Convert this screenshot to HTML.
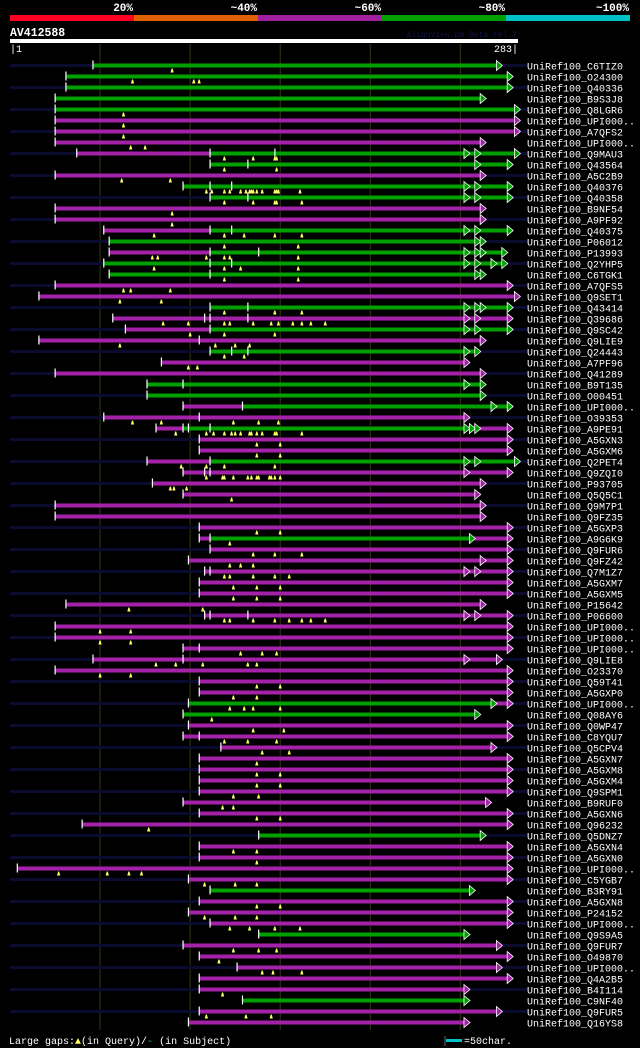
<!DOCTYPE html>
<html><head><meta charset="utf-8"><style>
html,body{margin:0;padding:0;background:#000;}
svg{display:block;font-family:"Liberation Mono",monospace;}
</style></head><body>
<svg id="chart" width="640" height="1048" viewBox="0 0 640 1048">
  <rect x="0" y="0" width="640" height="1048" fill="#000"/>
  <g>
    <rect x="10" y="15" width="124" height="6" fill="#ff0022"/>
    <rect x="134" y="15" width="124" height="6" fill="#e06000"/>
    <rect x="258" y="15" width="124" height="6" fill="#a020a0"/>
    <rect x="382" y="15" width="124" height="6" fill="#00a000"/>
    <rect x="506" y="15" width="124" height="6" fill="#00c0c8"/>
    <g fill="#fff" font-size="11" font-weight="bold" text-anchor="end">
      <text x="133" y="11">20%</text>
      <text x="257" y="11">~40%</text>
      <text x="381" y="11">~60%</text>
      <text x="505" y="11">~80%</text>
      <text x="629" y="11">~100%</text>
    </g>
  </g>
  <text x="10" y="36" fill="#fff" font-size="11.5" font-weight="bold">AV412588</text>
  <text x="517" y="37" fill="#14144a" font-size="8" text-anchor="end">AlignView.pm Beta rel.7</text>
  <rect x="10" y="39" width="508" height="4" fill="#fff"/>
  <text x="10" y="52" fill="#fff" font-size="10">|1</text>
  <text x="518" y="52" fill="#fff" font-size="10" text-anchor="end">283|</text>
  <g id="grid"></g>
  <g id="rows"></g>
  <g font-size="10" fill="#fff">
    <text x="9" y="1044">Large gaps:<tspan fill="#ffff66">▲</tspan>(in Query)/<tspan fill="#00c0c8">-</tspan> (in Subject)</text>
    <line x1="445" y1="1036" x2="445" y2="1046" stroke="#666"/>
    <rect x="446" y="1039" width="16" height="3" fill="#00c0c8"/>
    <text x="464" y="1044">=50char.</text>
  </g>
</svg>
<script>
const queryLength = 283;
const gridTicks = [51, 101, 151, 201, 251];
const names = ["C6TIZ0","O24300","Q40336","B9S3J8","Q8LGR6","UPI000..","A7QFS2","UPI000..","Q9MAU3","Q43564","A5C2B9","Q40376","Q40358","B9NF54","A9PF92","Q40375","P06012","P13993","Q2YHP5","C6TGK1","A7QFS5","Q9SET1","Q43414","Q39686","Q9SC42","Q9LIE9","Q24443","A7PF96","Q41289","B9T135","O00451","UPI000..","O39353","A9PE91","A5GXN3","A5GXM6","Q2PET4","Q9ZQI0","P93705","Q5Q5C1","Q9M7P1","Q9FZ35","A5GXP3","A9G6K9","Q9FUR6","Q9FZ42","Q7M1Z7","A5GXM7","A5GXM5","P15642","P06600","UPI000..","UPI000..","UPI000..","Q9LIE8","O23370","Q59T41","A5GXP0","UPI000..","Q08AY6","Q0WP47","C8YQU7","Q5CPV4","A5GXN7","A5GXM8","A5GXM4","Q9SPM1","B9RUF0","A5GXN6","Q96232","Q5DNZ7","A5GXN4","A5GXN0","UPI000..","C5YGB7","B3RY91","A5GXN8","P24152","UPI000..","Q9S9A5","Q9FUR7","O49870","UPI000..","Q4A2B5","B4I114","C9NF40","Q9FUR5","Q16YS8"];
const segs = [
[[47,271,"g"]],[[32,277,"g"]],[[32,277,"g"]],[[26,262,"g"]],[[26,281,"g"]],[[26,281,"p"]],[[26,281,"p"]],[[26,262,"p"]],
[[38,112,"p"],[112,281,"g"]],[[112,277,"g"]],[[26,262,"p"]],[[97,277,"g"]],[[112,277,"g"]],[[26,262,"p"]],[[26,262,"p"]],
[[53,112,"p"],[112,277,"g"]],[[56,262,"g"]],[[56,112,"p"],[112,274,"g"]],[[53,274,"g"]],[[56,262,"g"]],[[26,277,"p"]],[[17,281,"p"]],
[[112,277,"g"]],[[58,277,"p"]],[[65,112,"p"],[112,277,"g"]],[[17,262,"p"]],[[112,259,"g"]],[[85,253,"p"]],[[26,262,"p"]],
[[77,262,"g"]],[[77,262,"g"]],[[97,130,"p"],[130,277,"g"]],[[53,253,"p"]],[[82,97,"p"],[97,253,"g"],[253,277,"p"]],
[[106,277,"p"]],[[106,277,"p"]],[[77,112,"p"],[112,281,"g"]],[[97,277,"p"]],[[80,262,"p"]],[[97,259,"p"]],[[26,262,"p"]],[[26,262,"p"]],
[[106,277,"p"]],[[106,112,"p"],[112,256,"g"],[256,277,"p"]],[[112,277,"p"]],[[100,277,"p"]],[[109,277,"p"]],[[106,277,"p"]],[[106,277,"p"]],
[[32,262,"p"]],[[109,277,"p"]],[[26,277,"p"]],[[26,277,"p"]],[[97,277,"p"]],[[47,271,"p"]],[[26,277,"p"]],[[106,277,"p"]],[[106,277,"p"]],
[[100,268,"g"],[268,277,"p"]],[[97,259,"g"]],[[100,277,"p"]],[[97,277,"p"]],[[118,268,"p"]],[[106,277,"p"]],[[106,277,"p"]],[[106,277,"p"]],
[[106,277,"p"]],[[97,265,"p"]],[[106,277,"p"]],[[41,277,"p"]],[[139,262,"g"]],[[106,277,"p"]],[[106,277,"p"]],[[5,277,"p"]],[[100,277,"p"]],
[[112,256,"g"]],[[106,277,"p"]],[[100,277,"p"]],[[112,277,"p"]],[[139,253,"g"]],[[97,271,"p"]],[[106,277,"p"]],[[127,271,"p"]],[[106,277,"p"]],
[[106,253,"p"]],[[130,253,"g"]],[[106,271,"p"]],[[100,253,"p"]]
];
const extraArrows = {9:[[253,"g"],[259,"g"]],10:[[259,"g"]],12:[[253,"g"],[259,"g"]],13:[[253,"g"],[259,"g"]],16:[[253,"g"],[259,"g"]],17:[[259,"g"]],18:[[253,"g"],[259,"g"],[262,"g"]],19:[[253,"g"],[259,"g"],[268,"g"]],20:[[259,"g"]],23:[[253,"g"],[259,"g"],[262,"g"]],24:[[253,"p"],[259,"p"]],25:[[253,"g"],[259,"g"]],27:[[253,"g"]],30:[[253,"g"]],32:[[268,"g"]],34:[[253,"g"],[256,"g"],[259,"g"]],37:[[253,"g"],[259,"g"]],38:[[253,"p"]],44:[[256,"g"]],46:[[262,"p"]],47:[[253,"p"],[259,"p"]],51:[[253,"p"],[259,"p"]],55:[[253,"p"]],59:[[268,"g"]]};
const bgRows = [1,3,5,7,9,11,13,15,17,19,21,23,25,27,29,31,33,35,37,39,41,43,45,47,49,51,53,55,57,59,61,63,65,67,69,71,73,75,77,79,81,83,85,87];
const hspStarts = {9:[112,148],10:[133],12:[112,124],13:[133],16:[112,124],18:[112,139],19:[112,124],20:[112],23:[133],24:[109,112,133],25:[112],26:[106],27:[124,133],30:[97],32:[130],33:[106],34:[97,100,112],37:[112],38:[109,112],44:[112],47:[112],51:[112,133],54:[106],55:[97],62:[106]};
const queryGaps = [
[91],[69,103,106],[],[],[64],[64],[64],[68,76],[120,136,148,149],[120,149],[63,90],
[110,113,120,123,129,132,134,135,136,138,141,148,149,150,162],[120,136,148,149,163],[91],[91],[81,120,131,148,163],[120,161],
[80,83,110,120,123,161],[81,120,129,161],[120,161],[64,68,90],[62,85],[120,148,163],[86,100,120,123,136,146,150,158,163,168,176],
[101,120,148],[62,115,126,134],[120,131],[100,105],[],[],[],[],[69,85,125,139,150],
[93,110,114,120,124,126,129,134,135,138,141,148,149,163],[138,151],[138,151],[96,110,120,148],
[110,119,120,125,133,135,138,139,145,146,148,151],[90,92,99],[124],[],[],[138,151],[123],[136,148,163],[123,129,136],
[120,123,136,148,156],[125,138,151],[125,138,151],[67,108],[120,123,136,148,156,163,168,176],[51,68],[51,68],[129,141,149],
[82,93,108,133,138],[51,68],[138,151],[125,138],[123,131,136,151],[113],[136,153],[120,133,149],[141,156],[138],[138,151],[138,151],
[125,139],[119,125],[138,151],[78],[],[125,138],[138],[28,55,67,74],[109,126,138],[],[138,151],[109,126,138],[123,134,148,162],[],
[125,139,149],[117],[141,147,163],[],[119],[],[110,132,146],[]
];
const COLORS = {g:"#00a000", p:"#a322a8"};
const NS = "http://www.w3.org/2000/svg";
const X0 = 10, X1 = 518, ROW0 = 65.5, ROWH = 11;
function xScale(pos){ return X0 + (pos - 1) * (X1 - X0) / (queryLength - 1); }
function yScale(i){ return ROW0 + i * ROWH; }
function mk(tag, attrs, parent){ const e = document.createElementNS(NS, tag); for (const k in attrs) e.setAttribute(k, attrs[k]); parent.appendChild(e); return e; }

const grid = document.getElementById("grid");
gridTicks.forEach(t => {
  const l = mk("line", {x1: xScale(t), x2: xScale(t), y1: 44, y2: 1030, stroke: "#35351a", "stroke-width": 1}, grid);
  
  
});

const rowsG = document.getElementById("rows");
function arrow(g, pos, c, y){
  const x = xScale(pos);
  const a = mk("polygon", {points: `${x},${y-5} ${x+6},${y} ${x},${y+5}`, fill: COLORS[c], stroke: "#fff", "stroke-width": 0.8}, g);
  
  
}
names.forEach((nm, i) => {
  const r = i + 1, y = yScale(i);
  const g = mk("g", {}, rowsG);
  
  
  if (bgRows.includes(r)) {
    const b = mk("rect", {x: X0, y: y - 1.5, width: 518, height: 3, fill: "#0b0b30"}, g);
    
    
  }
  const s = segs[i];
  s.forEach(sg => {
    const rr = mk("rect", {x: xScale(sg[0]), y: y - 2, width: xScale(sg[1]) - xScale(sg[0]), height: 4, fill: COLORS[sg[2]]}, g);
    
    
  });
  const ticks = [s[0][0]].concat(hspStarts[r] || []);
  ticks.forEach(t => {
    const tk = mk("rect", {x: xScale(t) - 0.5, y: y - 5, width: 1.2, height: 9, fill: "#fff"}, g);
    
    
  });
  (extraArrows[r] || []).forEach(a => arrow(g, a[0], a[1], y));
  const last = s[s.length - 1];
  arrow(g, last[1], last[2], y);
  queryGaps[i].forEach(q => {
    const qx = xScale(q);
    const m = mk("polygon", {points: `${qx-0.5},${y+3} ${qx+0.5},${y+3} ${qx+1.6},${y+7} ${qx-1.6},${y+7}`, fill: "#ffff66"}, g);
    
    
  });
  const t = mk("text", {x: 527, y: y + 4, fill: "#fff", "font-size": 10}, g);
  t.textContent = "UniRef100_" + nm;
  
  
});
</script>
</body></html>
